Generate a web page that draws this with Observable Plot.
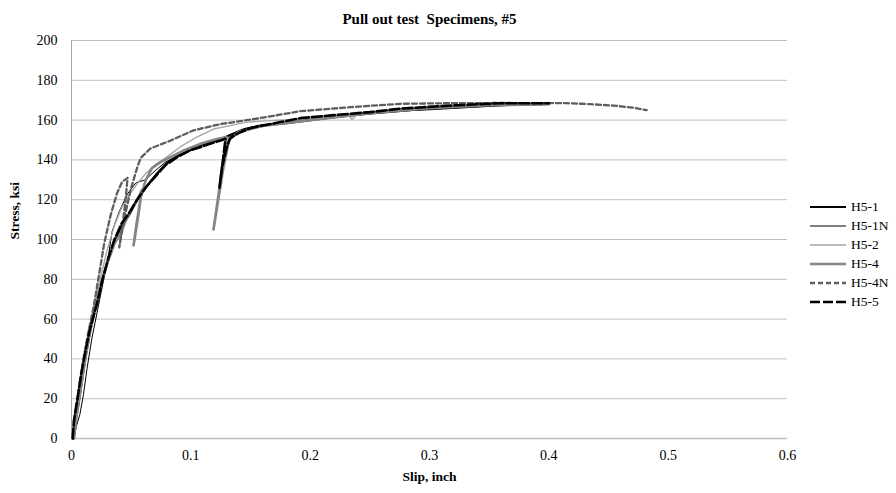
<!DOCTYPE html>
<html>
<head>
<meta charset="utf-8">
<script src="https://cdn.jsdelivr.net/npm/d3@7"></script>
<script src="https://cdn.jsdelivr.net/npm/@observablehq/plot@0.6"></script>
<style>
  body { margin: 0; background: #fff; }
  #wrap { position: relative; width: 896px; height: 493px; }
  #wrap, #wrap * , #wrap svg text { font-family: "Liberation Serif", "DejaVu Serif", serif !important; }
  #legend { position: absolute; left: 808px; top: 197px; font-size: 13.5px; color: #000; }
  #legend .row { height: 19px; display: flex; align-items: center; }
  #legend svg { display: block; }
</style>
</head>
<body>
<div id="wrap"></div>
<script>
const titleText = "Pull out test  Specimens, #5";
const xLabel = "Slip, inch";
const yLabel = "Stress, ksi";
const xTicks = [0, 0.1, 0.2, 0.3, 0.4, 0.5, 0.6];
const yTicks = [0, 20, 40, 60, 80, 100, 120, 140, 160, 180, 200];

const seriesNames = ["H5-1", "H5-1N", "H5-2", "H5-4", "H5-4N", "H5-5"];

const h5_1 = [[0.002,0],[0.003,8],[0.006,18],[0.009,30],[0.012,42],[0.016,55],[0.020,66],[0.025,78],[0.031,90],[0.037,100],[0.043,108],[0.048,112],[0.055,120],[0.062,126],[0.070,132],[0.079,138],[0.089,142],[0.100,145],[0.110,148],[0.120,149.5],[0.128,151],[0.135,153],[0.145,155.5],[0.160,157.5],[0.180,158.5],[0.200,160],[0.220,161.5],[0.250,163.5],[0.280,165],[0.300,165.5],[0.330,166.5],[0.360,167.5],[0.397,168]];

const h5_1N = [[0.002,0],[0.004,6],[0.007,12],[0.010,22],[0.013,35],[0.017,50],[0.022,65],[0.027,80],[0.031,92],[0.034,104],[0.040,114],[0.047,123],[0.054,128.5],[0.062,130],[0.070,134.5],[0.079,139],[0.090,142.5],[0.100,145],[0.112,148],[0.122,150],[0.130,152],[0.140,154.5],[0.160,157],[0.200,160],[0.250,163],[0.300,165.5],[0.350,167],[0.395,168]];

const h5_2 = [[0.001,0],[0.003,10],[0.006,22],[0.010,38],[0.014,52],[0.019,66],[0.024,80],[0.030,95],[0.036,107],[0.042,116],[0.048,122],[0.055,128],[0.062,133],[0.070,137.5],[0.080,141.5],[0.091,146.5],[0.105,151.5],[0.119,155.5],[0.135,157.5],[0.147,159],[0.175,160],[0.200,161],[0.220,162],[0.232,162.5],[0.235,160.3],[0.240,163.2],[0.260,164.5],[0.300,166],[0.350,167.5],[0.390,168]];

const h5_4 = [[0.002,0],[0.004,10],[0.007,22],[0.011,38],[0.015,52],[0.020,66],[0.025,78],[0.030,88],[0.036,98],[0.041,103],[0.046,110],[0.051,116],[0.056,121],[0.059,125],[0.056,112],[0.052,97],[0.054,106],[0.058,121],[0.062,129.6],[0.0676,136],[0.075,139],[0.085,142],[0.095,145],[0.110,148.5],[0.122,150.5],[0.130,151.5],[0.127,140],[0.124,126],[0.119,105],[0.123,120],[0.127,135],[0.132,150],[0.140,154],[0.160,157],[0.200,160],[0.250,163.5],[0.300,166],[0.350,167.5],[0.400,168]];

const h5_4N = [[0.001,0],[0.003,12],[0.006,24],[0.010,40],[0.014,53],[0.0185,66],[0.023,82],[0.0274,98],[0.0327,112],[0.038,123],[0.0425,129],[0.047,131],[0.045,118],[0.042,104],[0.040,96],[0.044,110],[0.050,126],[0.055,136],[0.058,141],[0.066,145.7],[0.083,149.7],[0.102,154.8],[0.125,158],[0.156,160.8],[0.192,164.5],[0.234,166.5],[0.276,168.2],[0.318,168.5],[0.360,168.6],[0.401,168.5],[0.415,168.5],[0.435,168],[0.454,167.3],[0.470,166.3],[0.482,165]];

const h5_5 = [[0.001,0],[0.002,9],[0.005,20],[0.008,32],[0.0117,44],[0.0155,55],[0.0187,62],[0.0215,68],[0.026,80],[0.031,91],[0.036,100],[0.042,108],[0.048,113],[0.055,120],[0.062,126],[0.070,131.5],[0.079,137.5],[0.0886,141.4],[0.100,145],[0.108,146.4],[0.118,148.5],[0.125,149.7],[0.129,150.6],[0.127,140],[0.124,126],[0.126,136],[0.130,146],[0.133,151],[0.140,153.5],[0.150,156],[0.175,159],[0.192,161],[0.220,162.5],[0.250,164],[0.276,165.8],[0.318,167.3],[0.360,168.5],[0.400,168.5]];

const seriesData = [h5_1, h5_1N, h5_2, h5_4, h5_4N, h5_5];

const styles = [
  {stroke: "#000000", strokeWidth: 2.2, dash: null},
  {stroke: "#000000", strokeWidth: 1, dash: null},
  {stroke: "#a6a6a6", strokeWidth: 1.4, dash: null},
  {stroke: "#858585", strokeWidth: 2.6, dash: null},
  {stroke: "#5e5e5e", strokeWidth: 2.3, dash: "5,3"},
  {stroke: "#000000", strokeWidth: 2.6, dash: "10,3"}
];

const lineMarks = seriesData.map((d, i) => Plot.line(d, {
  x: p => p[0], y: p => p[1],
  stroke: styles[i].stroke, strokeWidth: styles[i].strokeWidth,
  strokeDasharray: styles[i].dash || undefined,
  strokeLinejoin: "round", curve: "linear"
}));

const chart = Plot.plot({
  width: 896, height: 493,
  marginLeft: 71, marginRight: 109, marginTop: 40, marginBottom: 55,
  style: {fontFamily: "Liberation Serif, serif", fontSize: "13px", color: "#000", background: "#fff"},
  x: {domain: [0, 0.6]},
  y: {domain: [0, 200]},
  marks: [
    Plot.gridY(yTicks, {stroke: "#c0c0c0", strokeOpacity: 1, strokeWidth: 1}),
    Plot.ruleY([0], {stroke: "#bdbdbd", strokeWidth: 1.5}),
    Plot.ruleX([0], {stroke: "#a6a6a6", strokeWidth: 1}),
    Plot.axisX(xTicks, {tickSize: 0, tickPadding: 12, label: null, tickFormat: d => String(+d.toFixed(1)), fontSize: 14}),
    Plot.axisY(yTicks, {tickSize: 0, tickPadding: 14, label: null, fontSize: 14}),
    ...lineMarks,
    Plot.text([titleText], {frameAnchor: "top", dy: -27, fontWeight: "bold", fontSize: 15}),
    Plot.text([xLabel], {frameAnchor: "bottom", dy: 42, fontWeight: "bold", fontSize: 13.5}),
    Plot.text([yLabel], {frameAnchor: "left", dx: -57, rotate: -90, fontWeight: "bold", fontSize: 13.5})
  ]
});

const wrap = document.getElementById("wrap");
wrap.appendChild(chart);

const legend = document.createElement("div");
legend.id = "legend";
seriesNames.forEach((name, i) => {
  const row = document.createElement("div");
  row.className = "row";
  const s = styles[i];
  row.innerHTML = `<svg width="40" height="10"><line x1="2" y1="5" x2="38" y2="5" stroke="${s.stroke}" stroke-width="${s.strokeWidth}" ${s.dash ? `stroke-dasharray="${s.dash}"` : ""}/></svg><span style="margin-left:3px">${name}</span>`;
  legend.appendChild(row);
});
wrap.appendChild(legend);
</script>
</body>
</html>
